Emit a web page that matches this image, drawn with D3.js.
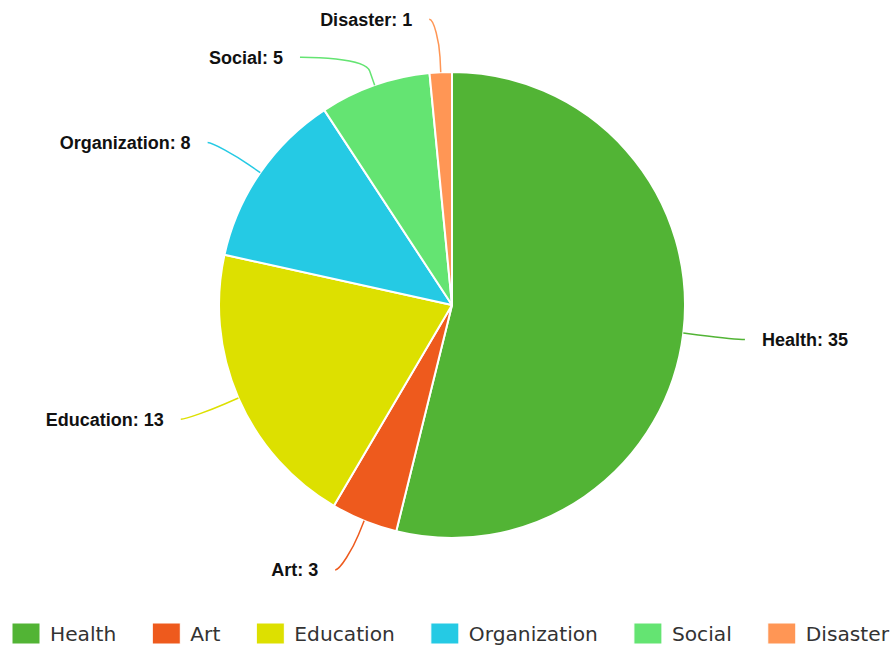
<!DOCTYPE html>
<html>
<head>
<meta charset="utf-8">
<script src="https://cdnjs.cloudflare.com/ajax/libs/d3/7.8.5/d3.min.js"></script>
<style>
  html, body { margin: 0; padding: 0; background: #fff; }
  svg { display: block; }
</style>
</head>
<body>
<svg id="chart" width="894" height="648"></svg>
<script>
// Project counts by category
const categories = ["Health", "Art", "Education", "Organization", "Social", "Disaster"];
const counts = [35, 3, 13, 8, 5, 1];
const colors = ["#52b435", "#ee5a1d", "#dde000", "#25cae4", "#64e472", "#ff9655"];

const W = 894, H = 648;
const cx = 452, cy = 305, radius = 233;
const labelDistance = 53;     // label ring beyond the pie edge
const breakOffset = 15;       // where the connector bends
const connectorPad = 9;       // horizontal gap from label ring to connector end
const textGap = 17;           // gap between connector end and text
const minLabelGap = 38;       // minimum vertical gap between stacked labels

const svg = d3.select("#chart");
const data = categories.map((c, i) => ({ name: c, value: counts[i], color: colors[i] }));

const pie = d3.pie().value(d => d.value).sort(null);
const arcs = pie(data);
const arc = d3.arc().innerRadius(0).outerRadius(radius);

const g = svg.append("g").attr("transform", `translate(${cx},${cy})`);

g.selectAll("path.slice")
  .data(arcs)
  .join("path")
  .attr("class", "slice")
  .attr("d", arc)
  .attr("fill", d => d.data.color)
  .attr("stroke", "#fff")
  .attr("stroke-width", 2)
  .attr("stroke-linejoin", "round");

// Label placement: natural position on the label ring, then de-overlap per side
const R = radius + labelDistance;
const labels = arcs.map(a => {
  const mid = (a.startAngle + a.endAngle) / 2;
  const s = Math.sin(mid), c = -Math.cos(mid);
  return {
    a, mid, s, c,
    side: s >= 0 ? 1 : -1,
    y: R * c,
    touch: [radius * s, radius * c],
    brk: [(radius + breakOffset) * s, (radius + breakOffset) * c]
  };
});
[1, -1].forEach(side => {
  const group = labels.filter(l => l.side === side).sort((p, q) => p.y - q.y);
  for (let i = 1; i < group.length; i++) {
    if (group[i].y - group[i - 1].y < minLabelGap) group[i].y = group[i - 1].y + minLabelGap;
  }
});
labels.forEach(l => {
  const yy = Math.max(-R, Math.min(R, l.y));
  l.x = l.side * (Math.sqrt(R * R - yy * yy) + connectorPad);
});

// Connectors: curve from the label into the break point, then straight to the slice
g.selectAll("path.connector")
  .data(labels)
  .join("path")
  .attr("class", "connector")
  .attr("fill", "none")
  .attr("stroke", d => d.a.data.color)
  .attr("stroke-width", 1.5)
  .attr("d", d => {
    const c1x = d.x - d.side * 5, c1y = d.y;
    const c2x = 2 * d.brk[0] - d.touch[0], c2y = 2 * d.brk[1] - d.touch[1];
    return `M${d.x},${d.y} C${c1x},${c1y} ${c2x},${c2y} ${d.brk[0]},${d.brk[1]} L${d.touch[0]},${d.touch[1]}`;
  });

g.selectAll("text.label")
  .data(labels)
  .join("text")
  .attr("class", "label")
  .attr("x", d => d.x + d.side * textGap)
  .attr("y", d => d.y)
  .attr("dy", "0.36em")
  .attr("text-anchor", d => d.side > 0 ? "start" : "end")
  .attr("font-family", "'Liberation Sans', Arial, sans-serif")
  .attr("font-weight", "bold")
  .attr("font-size", 18)
  .attr("fill", "#111")
  .text(d => `${d.a.data.name}: ${d.a.data.value}`);

// Legend
const legend = svg.append("g").attr("transform", "translate(12,623)");
let xPos = 0;
data.forEach(d => {
  const item = legend.append("g").attr("transform", `translate(${xPos},0)`);
  item.append("rect")
    .attr("width", 28).attr("height", 21)
    .attr("fill", d.color)
    .attr("stroke", "#fff").attr("stroke-width", 1);
  const t = item.append("text")
    .attr("x", 38).attr("y", 11).attr("dy", "0.36em")
    .attr("font-family", "'DejaVu Sans', sans-serif")
    .attr("font-size", 20.2)
    .attr("fill", "#333")
    .text(d.name);
  xPos += 38 + t.node().getComputedTextLength() + 36;
});
</script>
</body>
</html>
